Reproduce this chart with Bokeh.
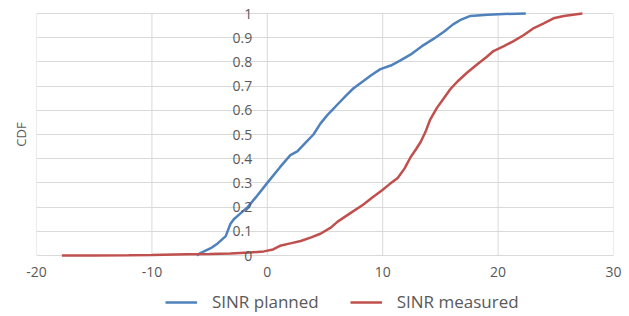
from bokeh.plotting import figure
from bokeh.layouts import column
from bokeh.models import LinearAxis, FixedTicker, Range1d, Legend, LegendItem
from bokeh.embed import file_html
from bokeh.resources import INLINE

planned_x = [-6.1, -5.8, -4.9, -4.3, -3.6, -3.2, -2.9, -2.3, -1.7, -1.0, 0.0, 1.1, 2.0, 2.6,
             3.3, 4.0, 4.6, 5.2, 5.7, 6.1, 6.8, 7.45, 8.3, 9.0, 9.8, 10.7, 11.5, 12.4, 13.4,
             14.4, 15.3, 16.1, 16.8, 17.6, 19.1, 20.5, 22.4]
planned_y = [0.0, 0.01, 0.03, 0.05, 0.08, 0.13, 0.15, 0.175, 0.2, 0.24, 0.30, 0.365, 0.415, 0.43,
             0.465, 0.5, 0.545, 0.58, 0.605, 0.625, 0.66, 0.69, 0.72, 0.745, 0.77, 0.785, 0.805,
             0.83, 0.865, 0.895, 0.925, 0.955, 0.975, 0.99, 0.995, 0.998, 1.0]

measured_x = [-17.8, -15, -12, -10, -8, -7, -5, -3.2, -1.5, -0.3, 0.5, 1.1, 2.0, 2.9, 3.8, 4.6,
              5.5, 6.1, 7.2, 8.3, 9.1, 9.95, 10.6, 11.3, 11.9, 12.4, 12.9, 13.3, 13.7, 14.1,
              14.7, 15.3, 15.9, 16.5, 17.3, 18.2, 19.0, 19.6, 20.5, 21.3, 22.2, 23.1, 24.0,
              24.8, 25.7, 26.5, 27.3]
measured_y = [0.0, 0.0, 0.001, 0.002, 0.004, 0.005, 0.006, 0.008, 0.012, 0.017, 0.025, 0.04,
              0.05, 0.06, 0.075, 0.09, 0.115, 0.14, 0.175, 0.21, 0.24, 0.27, 0.295, 0.32, 0.36,
              0.405, 0.44, 0.47, 0.51, 0.56, 0.61, 0.65, 0.69, 0.72, 0.755, 0.79, 0.82, 0.845,
              0.865, 0.885, 0.91, 0.94, 0.96, 0.98, 0.99, 0.995, 1.0]

x_ticks = [-20, -10, 0, 10, 20, 30]
x_tick_labels = {-20: "-20", -10: "-10", 0: "0", 10: "10", 20: "20", 30: "30"}
y_ticks = [0, 0.1, 0.2, 0.3, 0.4, 0.5, 0.6, 0.7, 0.8, 0.9, 1.0]
y_tick_labels = {0: "0", 0.1: "0.1", 0.2: "0.2", 0.3: "0.3", 0.4: "0.4", 0.5: "0.5",
                 0.6: "0.6", 0.7: "0.7", 0.8: "0.8", 0.9: "0.9", 1.0: "1"}
series_names = ["SINR planned", "SINR measured"]
series_colors = ["#4F81BD", "#C0504D"]

FONT = "Open Sans"
GRID = "#d9d9d9"
TXT = "#595959"

PAD = 9 / 242  # room (in data units) above 1 and below 0 so the end labels are not clipped
p = figure(width=629, height=285, output_backend="svg", toolbar_location=None,
           x_range=Range1d(-20, 30), y_range=Range1d(0 - PAD, 1 + PAD),
           min_border_left=36, min_border_right=16, min_border_top=4, min_border_bottom=21,
           background_fill_color="white", border_fill_color="white")
p.outline_line_color = None

# bottom x axis
p.xaxis.ticker = FixedTicker(ticks=x_ticks)
p.xaxis.major_label_overrides = x_tick_labels
p.xaxis.axis_line_color = None
p.xaxis.major_tick_line_color = None
p.xaxis.minor_tick_line_color = None
p.xaxis.major_tick_out = 0
p.xaxis.major_label_text_font = FONT
p.xaxis.major_label_text_font_size = "14px"
p.xaxis.major_label_text_color = TXT
p.xaxis.major_label_standoff = 2

# left y axis: only the "CDF" label
p.yaxis.ticker = FixedTicker(ticks=[])
p.yaxis.axis_line_color = None
p.yaxis.major_tick_line_color = None
p.yaxis.minor_tick_line_color = None
p.yaxis.axis_label = "CDF"
p.yaxis.axis_label_text_font = FONT
p.yaxis.axis_label_text_font_style = "normal"
p.yaxis.axis_label_text_font_size = "13px"
p.yaxis.axis_label_text_color = TXT
p.yaxis.axis_label_standoff = 7

# vertical grid lines spanning 0..1 only
p.xgrid.visible = False
p.segment(x0=x_ticks, y0=[y_ticks[0]] * len(x_ticks), x1=x_ticks, y1=[y_ticks[-1]] * len(x_ticks),
          line_color=GRID, line_width=1, level="underlay")
p.ygrid.ticker = FixedTicker(ticks=y_ticks)
p.ygrid.grid_line_color = GRID

# y tick labels at x = 0
yax = LinearAxis(fixed_location=0, ticker=FixedTicker(ticks=y_ticks),
                 major_label_overrides=y_tick_labels, bounds=(0, 1))
yax.axis_line_color = None
yax.major_tick_line_color = None
yax.minor_tick_line_color = None
yax.major_label_text_font = FONT
yax.major_label_text_font_size = "14px"
yax.major_label_text_color = TXT
yax.major_label_standoff = 9
p.add_layout(yax, "left")

p.line(planned_x, planned_y, line_color=series_colors[0], line_width=2.5)
p.line(measured_x, measured_y, line_color=series_colors[1], line_width=2.5)

# legend strip below the chart
lg = figure(width=629, height=31, output_backend="svg", toolbar_location=None,
            x_axis_location=None, y_axis_location=None,
            x_range=Range1d(0, 1), y_range=Range1d(0, 1),
            min_border=0, min_border_left=0, min_border_right=0,
            min_border_top=0, min_border_bottom=0)
lg.outline_line_color = None
lg.grid.visible = False
items = []
for name, col in zip(series_names, series_colors):
    rr = lg.line(x=[float("nan")], y=[float("nan")], line_color=col, line_width=2.5)
    items.append(LegendItem(label=name, renderers=[rr]))
legend = Legend(items=items, orientation="horizontal", location=(129, 3),
                label_text_font=FONT, label_text_font_size="17px", label_text_color=TXT,
                glyph_width=32, glyph_height=18, label_height=18,
                label_standoff=15, spacing=31, border_line_color=None,
                background_fill_alpha=0, padding=0, margin=0)
lg.add_layout(legend, "center")

open("out.html", "w").write(file_html(column(p, lg, spacing=0), INLINE))
